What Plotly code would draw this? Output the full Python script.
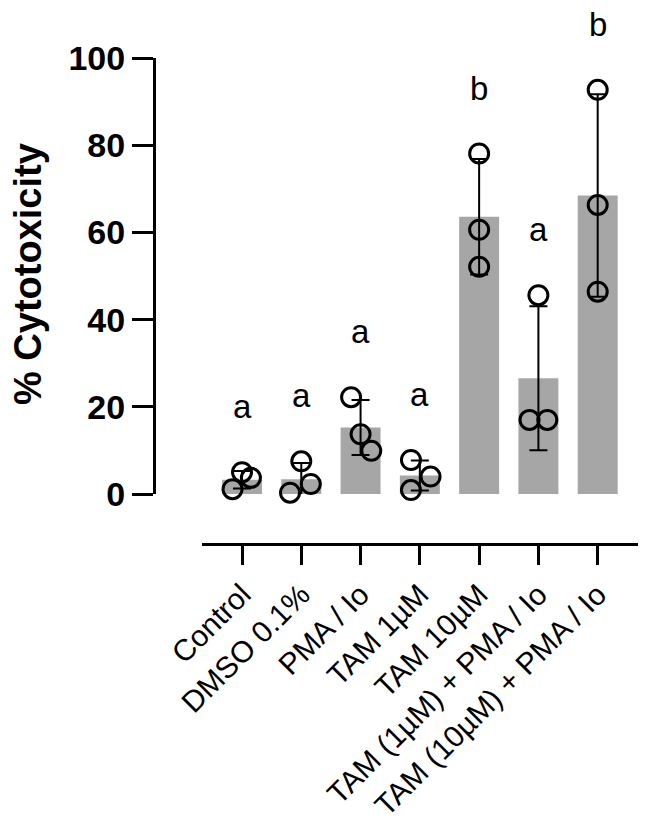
import numpy as np
import plotly.graph_objects as go

# ── datos ────────────────────────────────────────────────────────
groups = ["Control", "DMSO 0.1%", "PMA / Io", "TAM 1µM", "TAM 10µM",
          "TAM (1µM) + PMA / Io", "TAM (10µM) + PMA / Io"]

# % citotoxicidad por réplica (n = 3)
replicates = [
    [1.1, 5.0, 3.7],
    [0.3, 7.5, 2.3],
    [22.2, 13.7, 9.9],
    [7.8, 4.0, 0.9],
    [78.1, 60.6, 52.1],
    [17.0, 45.6, 17.0],
    [92.7, 66.3, 46.4],
]

# letras de significancia
letters = ["a", "a", "a", "a", "b", "a", "b"]

# desplazamiento horizontal de los puntos (para que no se tapen)
jitter = [
    [-0.16, 0.0, 0.15],
    [-0.19, 0.0, 0.16],
    [-0.16, 0.0, 0.18],
    [-0.15, 0.18, -0.15],
    [0.0, 0.0, 0.0],
    [-0.15, 0.0, 0.15],
    [0.0, 0.0, 0.0],
]

means = [np.mean(r) for r in replicates]
sds = [np.std(r, ddof=1) for r in replicates]
pos = list(range(len(groups)))
YMAX = 100

FONT = "Liberation Sans, Arial, sans-serif"
W, H = 650, 827
OFF = 8  # margen del <body> en la página


def fx(p):
    return (p - OFF) / W


def fy(p):
    return 1 - (p - OFF) / H


fig = go.Figure()

# barras + error (media ± DE)
fig.add_trace(go.Bar(
    x=pos, y=means, width=0.674,
    marker=dict(color="#A6A6A6", line=dict(width=0)),
    error_y=dict(type="data", array=sds, visible=True,
                 color="black", thickness=2, width=9),
))

# puntos individuales
px_x, px_y = [], []
for i, (r, j) in enumerate(zip(replicates, jitter)):
    px_x += [i + d for d in j]
    px_y += r
fig.add_trace(go.Scatter(
    x=px_x, y=px_y, mode="markers", cliponaxis=False,
    marker=dict(symbol="circle-open", size=19, color="black",
                line=dict(width=3, color="black")),
))

# letras sobre cada grupo (en fracción del eje y, para que la "b"
# por encima de 100 no se oculte)
annots = []
for i, (r, t) in enumerate(zip(replicates, letters)):
    annots.append(dict(
        x=i, y=(max(r) + 15) / YMAX, xref="x", yref="y domain", text=t,
        showarrow=False, xanchor="center", yanchor="middle",
        font=dict(family=FONT, size=33, color="black"),
    ))

annots.append(dict(
    text="% Cytotoxicity", textangle=-90,
    xref="paper", yref="paper", x=fx(28), y=fy(274),
    showarrow=False, xanchor="center", yanchor="middle",
    font=dict(family=FONT, size=38, color="black", weight="bold"),
))

fig.update_layout(
    width=W, height=H,
    margin=dict(l=0, r=0, t=0, b=0),
    plot_bgcolor="white", paper_bgcolor="white",
    showlegend=False,
    xaxis=dict(
        domain=[fx(202), fx(638)], range=[-0.675, 6.68],
        anchor="free", position=fy(544),
        showline=True, linewidth=3, linecolor="black",
        ticks="outside", ticklen=19, tickwidth=3, tickcolor="black",
        tickvals=pos, ticktext=groups, tickangle=-45,
        tickfont=dict(family=FONT, size=30, color="black"),
        showgrid=False, zeroline=False, automargin=False,
    ),
    yaxis=dict(
        domain=[fy(494), fy(58)], range=[0, YMAX],
        anchor="free", position=fx(154),
        showline=True, linewidth=3, linecolor="black",
        ticks="outside", ticklen=21, tickwidth=3, tickcolor="black",
        tickvals=[0, 20, 40, 60, 80, 100],
        tickfont=dict(family=FONT, size=34, color="black", weight="bold"),
        showgrid=False, zeroline=False, automargin=False,
    ),
    annotations=annots,
)

fig.write_html("out.html")
